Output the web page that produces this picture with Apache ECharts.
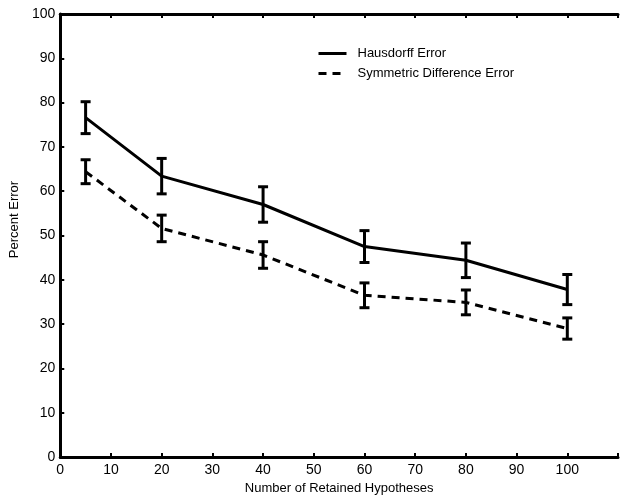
<!DOCTYPE html>
<html>
<head>
<meta charset="utf-8">
<script src="https://cdn.jsdelivr.net/npm/echarts@6/dist/echarts.min.js"></script>
<style>
  html, body { margin: 0; padding: 0; background: #fff; }
  #chart { width: 621px; height: 500px; }
</style>
</head>
<body>
<div id="chart"></div>
<script>
const hypotheses = [5, 20, 40, 60, 80, 100];

const hausdorff = [76.6, 63.4, 57.0, 47.5, 44.4, 37.8];
const hausdorffErr = [3.6, 4.0, 4.0, 3.6, 3.9, 3.4];

const symDiff = [64.4, 51.6, 45.6, 36.5, 34.9, 29.0];
const symDiffErr = [2.7, 3.0, 3.0, 2.8, 2.8, 2.4];

const font = 'Liberation Sans, Arial, sans-serif';

const chart = echarts.init(document.getElementById('chart'));

function errorBars(values, errs) {
  return {
    type: 'custom',
    silent: true,
    data: hypotheses.map((x, i) => [x, values[i] - errs[i], values[i] + errs[i]]),
    renderItem: function (params, api) {
      const lo = api.coord([api.value(0), api.value(1)]);
      const hi = api.coord([api.value(0), api.value(2)]);
      const w = 5;
      const style = { stroke: '#000', lineWidth: 3 };
      return {
        type: 'group',
        children: [
          { type: 'line', shape: { x1: lo[0], y1: lo[1], x2: hi[0], y2: hi[1] }, style: style },
          { type: 'line', shape: { x1: lo[0] - w, y1: lo[1], x2: lo[0] + w, y2: lo[1] }, style: style },
          { type: 'line', shape: { x1: hi[0] - w, y1: hi[1], x2: hi[0] + w, y2: hi[1] }, style: style }
        ]
      };
    },
    z: 3
  };
}

chart.setOption({
  animation: false,
  grid: { left: 58, right: -8, top: 14, bottom: 43 },
  legend: {
    orient: 'vertical',
    left: 312,
    top: 42,
    itemWidth: 28,
    itemHeight: 14,
    itemGap: 7,
    itemStyle: { opacity: 0 },
    lineStyle: { width: 3 },
    textStyle: { fontFamily: font, fontSize: 13, color: '#000', padding: [0, 0, 0, 6] },
    data: ['Hausdorff Error', 'Symmetric Difference Error']
  },
  xAxis: [
    {
      type: 'value',
      min: 0,
      max: 110,
      interval: 10,
      name: 'Number of Retained Hypotheses',
      nameLocation: 'middle',
      nameGap: 24,
      nameTextStyle: { fontFamily: font, fontSize: 13, color: '#000' },
      axisLine: { lineStyle: { color: '#000', width: 3 } },
      axisTick: { inside: true, length: 4, lineStyle: { color: '#000', width: 2 } },
      axisLabel: {
        fontFamily: font, fontSize: 14, color: '#000', margin: 6,
        formatter: v => (v > 100 ? '' : v)
      },
      splitLine: { show: false }
    },
    {
      type: 'value',
      position: 'top',
      min: 0,
      max: 110,
      interval: 10,
      axisLine: { lineStyle: { color: '#000', width: 3 } },
      axisTick: { inside: true, length: 4, lineStyle: { color: '#000', width: 2 } },
      axisLabel: { show: false },
      splitLine: { show: false }
    }
  ],
  yAxis: {
    type: 'value',
    min: 0,
    max: 100,
    interval: 10,
    name: 'Percent Error',
    nameLocation: 'middle',
    nameGap: 30,
    nameTextStyle: { fontFamily: font, fontSize: 13, color: '#000', padding: [0, 0, 0, 32] },
    axisLine: { lineStyle: { color: '#000', width: 3 } },
    axisTick: { inside: true, length: 4, lineStyle: { color: '#000', width: 2 } },
    axisLabel: { fontFamily: font, fontSize: 14, color: '#000', margin: 5 },
    splitLine: { show: false }
  },
  series: [
    {
      name: 'Hausdorff Error',
      type: 'line',
      data: hypotheses.map((x, i) => [x, hausdorff[i]]),
      symbol: 'none',
      lineStyle: { color: '#000', width: 3 },
      itemStyle: { color: '#000' },
      z: 2
    },
    {
      name: 'Symmetric Difference Error',
      type: 'line',
      data: hypotheses.map((x, i) => [x, symDiff[i]]),
      symbol: 'none',
      lineStyle: { color: '#000', width: 3, type: [8, 6] },
      itemStyle: { color: '#000' },
      z: 2
    },
    errorBars(hausdorff, hausdorffErr),
    errorBars(symDiff, symDiffErr)
  ]
});
</script>
</body>
</html>
